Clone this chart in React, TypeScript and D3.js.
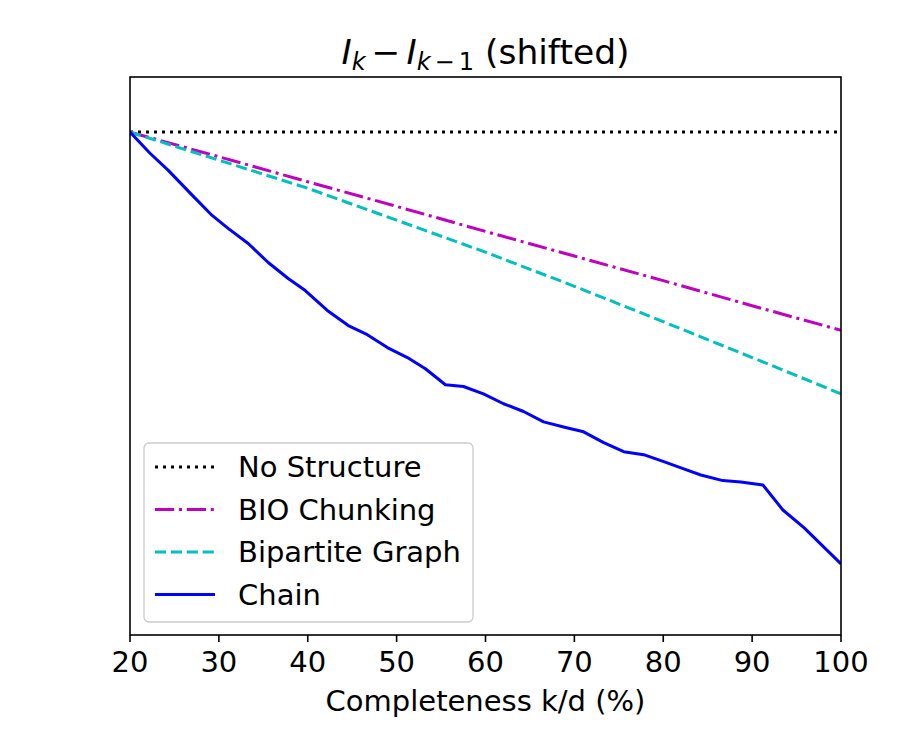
import React from "react";
import * as d3 from "d3";

// completeness (%) and shifted information difference for each structure
const chainX = [
  20, 22.25, 24.28, 26.99, 29.24, 31.04, 33.3, 35.55, 37.8, 39.72, 42.2, 44.56,
  46.7, 48.96, 51.21, 53.24, 55.49, 57.52, 59.77, 62.03, 64.28, 66.54, 69.01,
  71.04, 73.3, 75.55, 77.8, 80.06, 82.31, 84.23, 86.7, 88.73, 91.21, 93.46,
  95.83, 100,
];
const chainY = [
  0, -0.049, -0.088, -0.146, -0.193, -0.223, -0.258, -0.302, -0.339, -0.367,
  -0.413, -0.448, -0.469, -0.499, -0.522, -0.548, -0.585, -0.589, -0.606,
  -0.629, -0.647, -0.671, -0.684, -0.694, -0.719, -0.74, -0.747, -0.763, -0.78,
  -0.794, -0.807, -0.81, -0.817, -0.875, -0.916, -1.0,
];

const gridX = [20, 30, 40, 50, 60, 70, 80, 90, 100];
const bioY = [0, -0.057, -0.115, -0.172, -0.23, -0.287, -0.344, -0.402, -0.459];
const bipartiteY = [0, -0.065, -0.13, -0.204, -0.278, -0.357, -0.439, -0.522, -0.606];

const flatX = [20, 100];
const flatY = [0, 0];

const xTicks = [20, 30, 40, 50, 60, 70, 80, 90, 100];

const W = 900;
const H = 750;
const left = 130;
const right = 841;
const top = 77;
const bottom = 635;

const FONT = "'DejaVu Sans', sans-serif";

type Pt = { x: number; y: number };
const zip = (xs: number[], ys: number[]): Pt[] => xs.map((x, i) => ({ x, y: ys[i] }));

const series = [
  { name: "No Structure", pts: zip(flatX, flatY), color: "#000000", dash: "3,5", width: 3 },
  { name: "BIO Chunking", pts: zip(gridX, bioY), color: "#bf00bf", dash: "19.2,4.8,3,4.8", width: 3 },
  { name: "Bipartite Graph", pts: zip(gridX, bipartiteY), color: "#00bfbf", dash: "11.1,4.8", width: 3 },
  { name: "Chain", pts: zip(chainX, chainY), color: "#0000ff", dash: "none", width: 3 },
];

const App = () => {
  const x = d3.scaleLinear().domain([20, 100]).range([left, right]);
  const y = d3.scaleLinear().domain([-1.1645, 0.1276]).range([bottom, top]);
  const line = d3
    .line<Pt>()
    .x((d) => x(d.x))
    .y((d) => y(d.y));

  const legX = 144;
  const legY = 443;
  const rowH = 42.5;

  return (
    <svg
      width={W}
      height={H}
      style={{ position: "absolute", left: 0, top: 0, background: "#fff" }}
      fontFamily={FONT}
    >
      <defs>
        <clipPath id="plot-area">
          <rect x={left} y={top} width={right - left} height={bottom - top} />
        </clipPath>
      </defs>
      <rect width={W} height={H} fill="#fff" />

      <g clipPath="url(#plot-area)">
        {series.map((s) => (
          <path
            key={s.name}
            d={line(s.pts) || ""}
            fill="none"
            stroke={s.color}
            strokeWidth={s.width}
            strokeDasharray={s.dash}
            strokeLinejoin="round"
          />
        ))}
      </g>

      {/* axes frame */}
      <rect
        x={left}
        y={top}
        width={right - left}
        height={bottom - top}
        fill="none"
        stroke="#000"
        strokeWidth={1.6}
      />

      {/* x ticks */}
      {xTicks.map((t) => (
        <g key={t} transform={`translate(${x(t)},${bottom})`}>
          <line y1={0} y2={7} stroke="#000" strokeWidth={1.6} />
          <text y={37} textAnchor="middle" fontSize={29} fill="#000">
            {t}
          </text>
        </g>
      ))}

      <text x={(left + right) / 2} y={711} textAnchor="middle" fontSize={29} fill="#000">
        Completeness k/d (%)
      </text>

      {/* title with math-style subscripts */}
      <text x={(left + right) / 2} y={64} textAnchor="middle" fontSize={34.5} fill="#000">
        <tspan fontStyle="italic">I</tspan>
        <tspan fontStyle="italic" fontSize={24} dy={6}>k</tspan>
        <tspan dy={-6} dx={6}>−</tspan>
        <tspan fontStyle="italic" dx={6}>I</tspan>
        <tspan fontStyle="italic" fontSize={24} dy={6}>k</tspan>
        <tspan fontSize={24} dx={4}>−</tspan>
        <tspan fontSize={24} dx={4}>1</tspan>
        <tspan dy={-6}> (shifted)</tspan>
      </text>

      {/* legend */}
      <rect
        x={legX}
        y={legY}
        width={329}
        height={179}
        rx={5}
        fill="#fff"
        fillOpacity={0.8}
        stroke="#cccccc"
        strokeWidth={1.3}
      />
      {series.map((s, i) => {
        const cy = legY + 24 + i * rowH;
        return (
          <g key={s.name}>
            <line
              x1={155}
              x2={215}
              y1={cy}
              y2={cy}
              stroke={s.color}
              strokeWidth={s.width}
              strokeDasharray={s.dash}
            />
            <text x={238} y={cy + 10} fontSize={29} fill="#000">
              {s.name}
            </text>
          </g>
        );
      })}
    </svg>
  );
};

export default App;
